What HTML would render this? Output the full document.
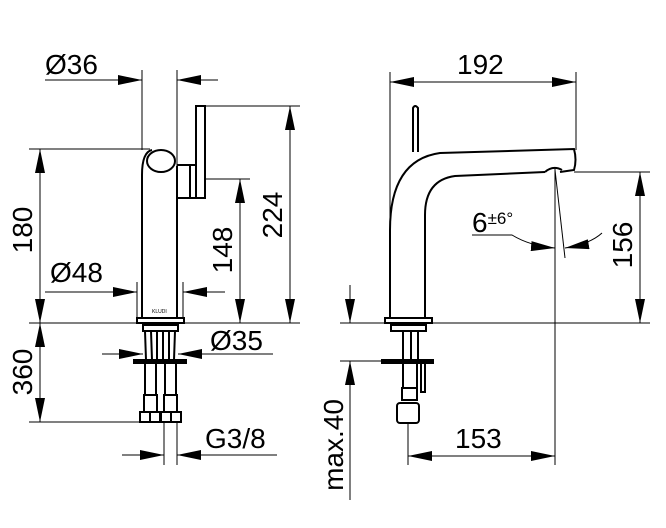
<!DOCTYPE html>
<html><head><meta charset="utf-8"><style>
html,body{margin:0;padding:0;background:#fff;}
svg{display:block;}
text{font-family:"Liberation Sans",sans-serif;font-size:28px;fill:#000;}
</style></head><body>
<svg width="666" height="528" viewBox="0 0 666 528" xmlns="http://www.w3.org/2000/svg">
<defs>
<marker id="a" viewBox="0 0 24 10" refX="24" refY="5" markerWidth="24" markerHeight="10" markerUnits="userSpaceOnUse" orient="auto"><path d="M0,0 L24,5 L0,10z" fill="#000"/></marker>
</defs>
<g stroke="#000" stroke-width="1" fill="none">
<line x1="142" y1="70" x2="142" y2="150"/>
<line x1="177" y1="70" x2="177" y2="170"/>
<line x1="45" y1="80" x2="142" y2="80" marker-end="url(#a)"/>
<line x1="218" y1="80" x2="177" y2="80" marker-end="url(#a)"/>
<line x1="205" y1="106" x2="300" y2="106"/>
<line x1="290" y1="323" x2="290" y2="106" marker-end="url(#a)"/>
<line x1="290" y1="106" x2="290" y2="323" marker-end="url(#a)"/>
<line x1="29" y1="149" x2="150" y2="149"/>
<line x1="40" y1="323" x2="40" y2="149" marker-end="url(#a)"/>
<line x1="40" y1="149" x2="40" y2="323" marker-end="url(#a)"/>
<line x1="205" y1="179" x2="250" y2="179"/>
<line x1="240" y1="323" x2="240" y2="179" marker-end="url(#a)"/>
<line x1="240" y1="179" x2="240" y2="323" marker-end="url(#a)"/>
<line x1="137" y1="282" x2="137" y2="318"/>
<line x1="183" y1="282" x2="183" y2="318"/>
<line x1="45" y1="292" x2="137" y2="292" marker-end="url(#a)"/>
<line x1="225" y1="292" x2="183" y2="292" marker-end="url(#a)"/>
<line x1="29" y1="323" x2="300" y2="323"/>
<line x1="102" y1="354" x2="143" y2="354" marker-end="url(#a)"/>
<line x1="273" y1="354" x2="178" y2="354" marker-end="url(#a)"/>
<line x1="40" y1="323" x2="40" y2="422" marker-end="url(#a)"/>
<line x1="40" y1="422" x2="40" y2="323" marker-end="url(#a)"/>
<line x1="29" y1="422" x2="140" y2="422"/>
<line x1="164" y1="422" x2="164" y2="465"/>
<line x1="177" y1="422" x2="177" y2="465"/>
<line x1="122" y1="455" x2="164" y2="455" marker-end="url(#a)"/>
<line x1="277" y1="455" x2="177" y2="455" marker-end="url(#a)"/>
</g>
<g stroke="#000" stroke-width="2" fill="none">
<path d="M142,318 L142,175 Q142,152 152,150"/>
<line x1="177" y1="166" x2="177" y2="318"/>
<ellipse cx="161" cy="161" rx="14" ry="11" fill="#fff"/>
<rect x="196" y="106" width="9" height="92"/>
<rect x="190" y="165" width="6" height="33"/>
<line x1="177" y1="165" x2="190" y2="165"/>
<line x1="177" y1="198" x2="190" y2="198"/>
<rect x="137" y="318" width="47" height="5"/>
<rect x="143" y="325" width="35" height="6"/>
<path d="M145,331 L146,360 M151,331 L152,360 M157,331 L157,360 M163,331 L163,360 M169,331 L169,360 M175,331 L174,360"/>
<rect x="134" y="360" width="52" height="3" fill="#000"/>
<path d="M145,363 L145,395 M156,363 L156,395 M165,363 L165,395 M176,363 L176,395"/>
<rect x="144" y="395" width="13" height="17"/>
<rect x="164" y="395" width="13" height="17"/>
<rect x="140" y="412" width="20" height="10"/>
<rect x="161" y="412" width="20" height="10"/>
<line x1="150" y1="412" x2="150" y2="422"/><line x1="171" y1="412" x2="171" y2="422"/>
</g>
<text x="152" y="313" style="font-size:5px">KLUDI</text>
<g stroke="#000" stroke-width="1" fill="none">
<line x1="390" y1="72" x2="390" y2="310"/>
<line x1="576" y1="72" x2="576" y2="150"/>
<line x1="480" y1="82" x2="390" y2="82" marker-end="url(#a)"/>
<line x1="480" y1="82" x2="576" y2="82" marker-end="url(#a)"/>
<line x1="574" y1="172" x2="650" y2="172"/>
<line x1="640" y1="323" x2="640" y2="172" marker-end="url(#a)"/>
<line x1="640" y1="172" x2="640" y2="323" marker-end="url(#a)"/>
<line x1="340" y1="323" x2="650" y2="323"/>
<line x1="555" y1="168" x2="555" y2="340"/>
<line x1="555" y1="170" x2="565" y2="258"/>
<path d="M472,235 L512,235 Q530,246 555,248" marker-end="url(#a)"/>
<path d="M602,233 Q590,244 565,248" marker-end="url(#a)"/>
<line x1="340" y1="361" x2="385" y2="361"/>
<line x1="350" y1="285" x2="350" y2="323" marker-end="url(#a)"/>
<line x1="350" y1="500" x2="350" y2="361" marker-end="url(#a)"/>
<line x1="408" y1="423" x2="408" y2="465"/>
<line x1="555" y1="340" x2="555" y2="465"/>
<line x1="480" y1="456" x2="408" y2="456" marker-end="url(#a)"/>
<line x1="480" y1="456" x2="555" y2="456" marker-end="url(#a)"/>
</g>
<g stroke="#000" stroke-width="2" fill="none">
<path d="M390,318 L390,230 Q390,160 440,153 L574,149 Q577,160 574,170 L560,172"/>
<path d="M425,318 L425,215 Q425,180 455,176 L545,172"/>
<path d="M545,172 Q553,165 562,170"/>
<path d="M413,152 L413,108 Q415,104 418,108 L418,152"/>
<rect x="385" y="318" width="47" height="5"/>
<rect x="391" y="325" width="35" height="6"/>
<path d="M403,331 L403,360 M411,331 L411,360 M418,331 L418,360"/>
<rect x="382" y="360" width="51" height="3" fill="#000"/>
<path d="M403,363 L403,388 M417,363 L417,388 M421,363 L421,392 L425,392 L425,363"/>
<rect x="402" y="388" width="15" height="12"/>
<rect x="397" y="403" width="22" height="20" rx="3"/>
</g>
<text x="45" y="74">Ø36</text>
<text x="50" y="282">Ø48</text>
<text x="210" y="350">Ø35</text>
<text x="205" y="448">G3/8</text>
<text x="457" y="74">192</text>
<text x="455" y="448">153</text>
<text x="472" y="232">6<tspan style="font-size:17px" dy="-8">±6°</tspan></text>
<text transform="translate(32,230) rotate(-90)" text-anchor="middle">180</text>
<text transform="translate(32,372) rotate(-90)" text-anchor="middle">360</text>
<text transform="translate(232,250) rotate(-90)" text-anchor="middle">148</text>
<text transform="translate(282,215) rotate(-90)" text-anchor="middle">224</text>
<text transform="translate(632,245) rotate(-90)" text-anchor="middle">156</text>
<text transform="translate(343,445) rotate(-90)" text-anchor="middle">max.40</text>
</svg>
</body></html>
